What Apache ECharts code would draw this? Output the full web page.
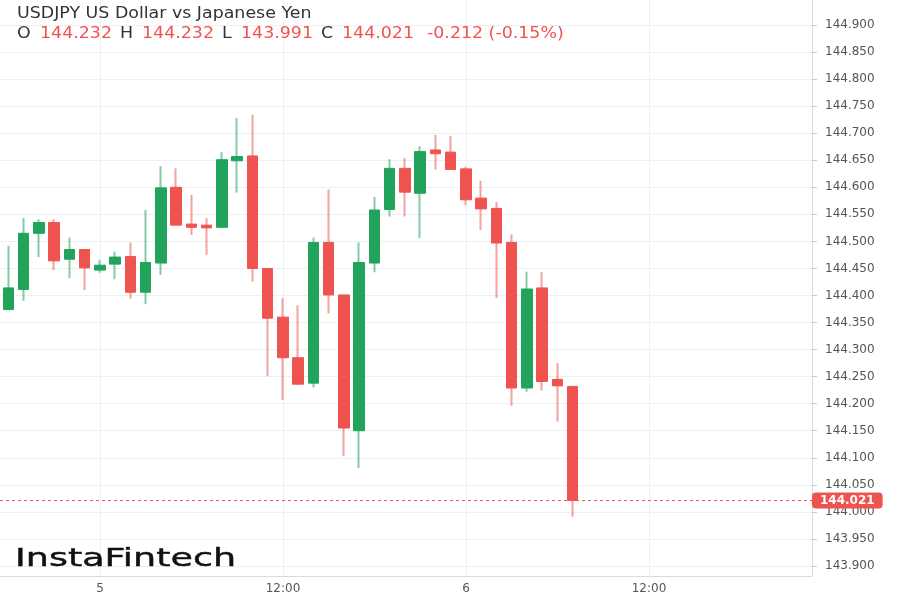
<!DOCTYPE html>
<html>
<head>
<meta charset="utf-8">
<script src="https://cdn.jsdelivr.net/npm/echarts@6/dist/echarts.min.js"></script>
<style>html,body{margin:0;padding:0;background:#fff;}#c{width:900px;height:600px;}</style>
</head>
<body>
<div id="c"></div>
<script>
// hours relative to day 5 00:00
const hours = [-6,-5,-4,-3,-2,-1,0,1,2,3,4,5,6,7,8,9,10,11,12,13,14,15,16,17,18,19,20,21,22,23,24,25,26,27,28,29,30,31];
const openV  = [144.374,144.411,144.515,144.535,144.467,144.485,144.447,144.458,144.472,144.406,144.460,144.600,144.532,144.530,144.526,144.649,144.658,144.450,144.360,144.285,144.238,144.498,144.401,144.150,144.460,144.559,144.635,144.589,144.669,144.665,144.634,144.580,144.561,144.498,144.229,144.414,144.245,144.232];
const closeV = [144.414,144.515,144.535,144.464,144.485,144.451,144.456,144.471,144.406,144.461,144.599,144.530,144.526,144.525,144.651,144.657,144.450,144.358,144.285,144.236,144.498,144.401,144.155,144.461,144.558,144.635,144.591,144.666,144.662,144.633,144.577,144.560,144.497,144.229,144.412,144.241,144.233,144.021];
const lowV   = [144.374,144.390,144.471,144.447,144.432,144.410,144.442,144.430,144.394,144.384,144.438,144.530,144.512,144.475,144.526,144.590,144.426,144.251,144.207,144.236,144.230,144.367,144.103,144.081,144.443,144.546,144.546,144.506,144.633,144.633,144.567,144.521,144.395,144.196,144.222,144.224,144.167,143.991];
const highV  = [144.492,144.543,144.541,144.541,144.507,144.485,144.466,144.481,144.498,144.558,144.639,144.635,144.586,144.543,144.665,144.728,144.734,144.450,144.395,144.382,144.507,144.596,144.401,144.498,144.582,144.652,144.654,144.676,144.697,144.695,144.638,144.612,144.573,144.513,144.444,144.443,144.275,144.232];
const xTickLabels = {0: '5', 12: '12:00', 24: '6', 36: '12:00'};
const X_MIN = -6.557, X_MAX = 46.69;

const UP = '#22a35c', DOWN = '#ef5350';
const UP_W = 'rgba(34,163,92,0.55)', DOWN_W = 'rgba(239,83,80,0.55)';

const n = hours.length;
const last = n - 1;
const wickData = hours.map((h, i) => [h, openV[i], closeV[i], lowV[i], highV[i]]);
const bodyData = hours.map((h, i) => [h, openV[i], closeV[i], Math.min(openV[i], closeV[i]), Math.max(openV[i], closeV[i])]);
const lastClose = closeV[last];
const change = lastClose - closeV[last - 1];
const pct = change / closeV[last - 1] * 100;

const chart = echarts.init(document.getElementById('c'), null, {renderer: 'canvas'});
const FONT = 'DejaVu Sans';
const SX = 1.16;
function headText(x, y, text, color) {
  return {
    type: 'text', x: x, y: y, scaleX: SX, silent: true, z: 100,
    style: {text: text, fontFamily: FONT, fontSize: 15, fill: color, verticalAlign: 'middle'}
  };
}
const ohlcRow = [
  headText(17, 34, 'O', '#333'),
  headText(40, 34, openV[last].toFixed(3), DOWN),
  headText(120, 34, 'H', '#333'),
  headText(142, 34, highV[last].toFixed(3), DOWN),
  headText(222, 34, 'L', '#333'),
  headText(241, 34, lowV[last].toFixed(3), DOWN),
  headText(321, 34, 'C', '#333'),
  headText(342, 34, lastClose.toFixed(3), DOWN),
  headText(427, 34, change.toFixed(3) + ' (' + pct.toFixed(2) + '%)', DOWN)
];
chart.setOption({
  animation: false,
  backgroundColor: '#ffffff',
  textStyle: {fontFamily: FONT},
  graphic: [
    headText(17, 14, 'USDJPY US Dollar vs Japanese Yen', '#333'),
    ...ohlcRow,
    {
      type: 'text', x: 15, y: 560, scaleX: 1.52, silent: true, z: 100,
      style: {text: 'InstaFintech', fontFamily: FONT, fontSize: 24, fill: '#111', verticalAlign: 'middle', stroke: '#111', lineWidth: 0.4}
    }
  ],
  grid: {left: 0, right: 88, top: 0, bottom: 24, containLabel: false},
  xAxis: {
    type: 'value',
    min: X_MIN, max: X_MAX,
    splitNumber: 4, minInterval: 12, maxInterval: 12,
    axisLine: {show: true, onZero: false, lineStyle: {color: '#d6dce5'}},
    axisTick: {show: false},
    axisLabel: {
      color: '#555', fontSize: 12, margin: 7, fontFamily: FONT,
      showMinLabel: false, showMaxLabel: false,
      formatter: v => { const k = Math.round(v); return (Math.abs(v - k) < 1e-6 && xTickLabels[k] !== undefined) ? xTickLabels[k] : ''; }
    },
    splitLine: {show: true, showMinLine: false, showMaxLine: false, lineStyle: {color: '#eceff3', width: 1}}
  },
  yAxis: {
    type: 'value', position: 'right',
    min: 143.8815, max: 144.9462,
    splitNumber: 21, minInterval: 0.05, maxInterval: 0.05,
    axisLine: {show: true, onZero: false, lineStyle: {color: '#d6dce5'}},
    axisTick: {show: true, length: 5, lineStyle: {color: '#c5ccd6'}},
    axisLabel: {
      color: '#555', fontSize: 12, margin: 13, fontFamily: FONT,
      showMinLabel: false, showMaxLabel: false,
      formatter: v => { const r = v / 0.05; return Math.abs(r - Math.round(r)) < 1e-6 ? v.toFixed(3) : ''; }
    },
    splitLine: {show: true, showMinLine: false, showMaxLine: false, lineStyle: {color: '#eceff3', width: 1}}
  },
  series: [
    {
      type: 'line', name: 'last price line',
      data: [[X_MIN, lastClose], [X_MAX, lastClose]],
      showSymbol: false, symbol: 'none',
      lineStyle: {color: DOWN, width: 1, type: [3, 3]},
      itemStyle: {color: DOWN},
      silent: true, z: 1,
      endLabel: {
        show: true, distance: 0,
        formatter: () => lastClose.toFixed(3),
        backgroundColor: DOWN, color: '#fff', fontWeight: 'bold', fontSize: 12, fontFamily: FONT,
        padding: [2, 8, 2, 8], borderRadius: 4
      }
    },
    {
      type: 'candlestick', name: 'wick',
      encode: {x: 0, y: [1, 2, 3, 4]},
      data: wickData,
      barWidth: 1,
      itemStyle: {color: UP_W, color0: DOWN_W, borderColor: UP_W, borderColor0: DOWN_W, borderWidth: 2},
      silent: true
    },
    {
      type: 'candlestick', name: 'body',
      encode: {x: 0, y: [1, 2, 3, 4]},
      data: bodyData,
      barWidth: 11,
      itemStyle: {color: UP, color0: DOWN, borderColor: UP, borderColor0: DOWN, borderWidth: 1}
    }
  ]
});
</script>
</body>
</html>
